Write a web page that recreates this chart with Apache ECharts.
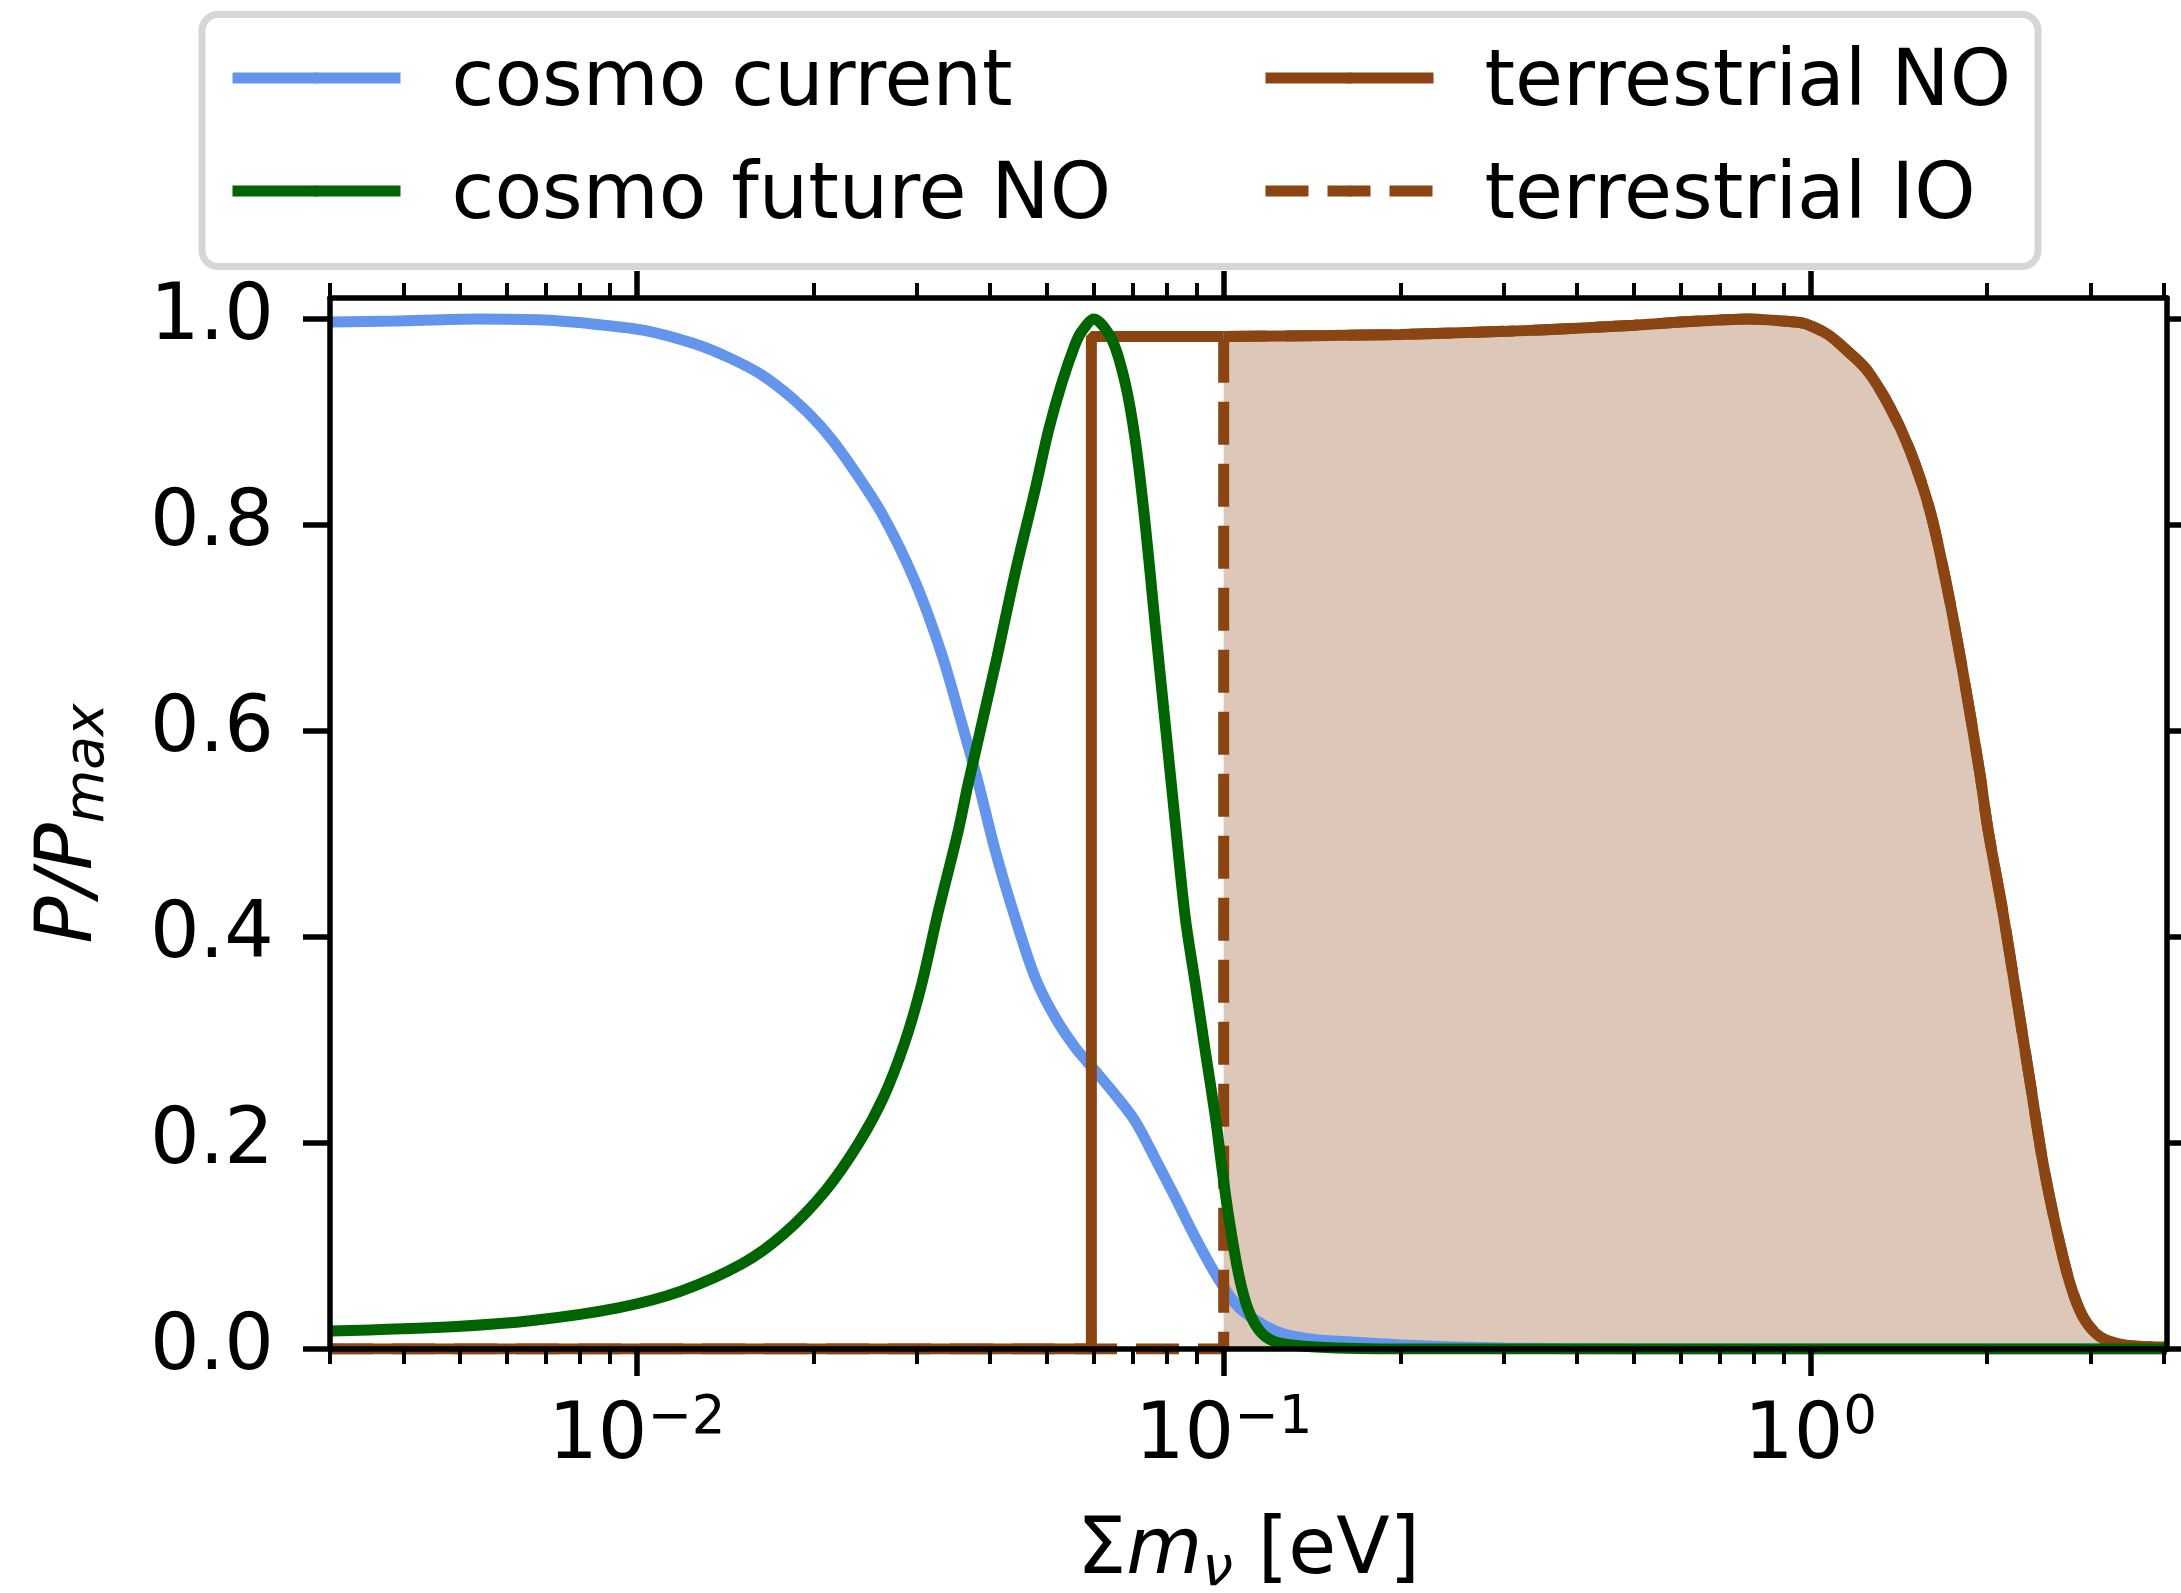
<!DOCTYPE html>
<html>
<head>
<meta charset="utf-8">
<script src="https://cdn.jsdelivr.net/npm/echarts@6/dist/echarts.min.js"></script>
<style>
  html, body { margin: 0; padding: 0; background: #fff; }
  #chart { width: 2181px; height: 1593px; }
</style>
</head>
<body>
<div id="chart"></div>
<script>
  // [sum of masses in eV, P/Pmax]
  const cosmoCurrent = [
    [0.003, 0.997], [0.00386, 0.998], [0.00535, 1.0], [0.00696, 0.999], [0.00847, 0.995],
    [0.0103, 0.989], [0.01254, 0.976], [0.01429, 0.963], [0.0163, 0.946], [0.01858, 0.921],
    [0.02064, 0.895], [0.02262, 0.866], [0.0261, 0.812], [0.0298, 0.745], [0.0331, 0.674],
    [0.0358, 0.607], [0.0382, 0.549], [0.0408, 0.484], [0.0441, 0.419], [0.0477, 0.361],
    [0.0516, 0.322], [0.0558, 0.293], [0.0604, 0.27], [0.0653, 0.247], [0.0707, 0.221],
    [0.0764, 0.185], [0.0827, 0.147], [0.0895, 0.108], [0.0968, 0.073], [0.1047, 0.044],
    [0.1133, 0.028], [0.1258, 0.015], [0.1434, 0.009], [0.1633, 0.007], [0.2, 0.004],
    [0.3, 0.001], [0.5, 0], [4.05, 0]
  ];
  const cosmoFutureNO = [
    [0.003, 0.0175], [0.00484, 0.0217], [0.0067, 0.028], [0.00929, 0.04], [0.01186, 0.056],
    [0.01514, 0.083], [0.01782, 0.112], [0.02098, 0.154], [0.02389, 0.2], [0.02635, 0.245],
    [0.02859, 0.297], [0.03051, 0.352], [0.03258, 0.423], [0.03532, 0.504], [0.0367, 0.549],
    [0.0411, 0.672], [0.0441, 0.753], [0.0477, 0.834], [0.0503, 0.892], [0.053, 0.938],
    [0.0558, 0.975], [0.0573, 0.988], [0.0601, 1.0], [0.0645, 0.98], [0.068, 0.937],
    [0.0707, 0.882], [0.0735, 0.801], [0.0764, 0.704], [0.0795, 0.607], [0.0826, 0.514],
    [0.086, 0.419], [0.0895, 0.354], [0.093, 0.29], [0.0968, 0.225], [0.0993, 0.176],
    [0.102, 0.128], [0.1061, 0.072], [0.1103, 0.037], [0.1162, 0.015], [0.1241, 0.006],
    [0.1434, 0.002], [0.2, 0], [4.05, 0]
  ];
  // threshold steps of the two terrestrial curves
  const terrestrialNOStep = [[0.003, 0], [0.0595, 0], [0.0595, 0.983], [0.1, 0.983]];
  const terrestrialIOStep = [[0.003, 0], [0.1, 0], [0.1, 0.983]];
  // shared plateau and fall-off of both terrestrial curves
  const terrestrialTail = [
    [0.1, 0.983], [0.15, 0.984], [0.2, 0.985], [0.3, 0.988], [0.4, 0.991], [0.5, 0.994],
    [0.6, 0.997], [0.7, 0.999], [0.787, 1.0], [0.897, 0.998], [0.97, 0.996], [1.0226, 0.991],
    [1.077, 0.984], [1.135, 0.973], [1.245, 0.951], [1.364, 0.915], [1.476, 0.873],
    [1.596, 0.815], [1.704, 0.743], [1.82, 0.656], [1.943, 0.559], [2.007, 0.504],
    [2.129, 0.423], [2.244, 0.342], [2.364, 0.261], [2.491, 0.18], [2.626, 0.116],
    [2.767, 0.064], [2.915, 0.031], [3.112, 0.012], [3.412, 0.004], [4.05, 0.002]
  ];

  const xMajorTicks = [0.01, 0.1, 1];
  const xMinorTicks = [0.003, 0.004, 0.005, 0.006, 0.007, 0.008, 0.009,
    0.02, 0.03, 0.04, 0.05, 0.06, 0.07, 0.08, 0.09,
    0.2, 0.3, 0.4, 0.5, 0.6, 0.7, 0.8, 0.9, 2, 3, 4];
  const yTicks = [0, 0.2, 0.4, 0.6, 0.8, 1.0];

  const FONT = 'DejaVu Sans';
  const X_MIN = 0.003, X_MAX = 4.05, Y_MAX = 1.0204;
  const LW = 11;
  const BROWN = '#8B4513';

  function xAxis(position, ticks, len, width, main) {
    return {
      type: 'log', logBase: 10, min: X_MIN, max: X_MAX, position: position, z: 10,
      axisLine: { show: main, onZero: false, lineStyle: { color: '#000', width: 5.5 } },
      axisTick: { show: true, inside: false, length: len, customValues: ticks,
        lineStyle: { color: '#000', width: width } },
      axisLabel: { show: false },
      splitLine: { show: false },
      minorTick: { show: false },
      minorSplitLine: { show: false }
    };
  }

  const bottomMajor = xAxis('bottom', xMajorTicks, 27, 5.5, true);
  bottomMajor.axisLabel = {
    show: true,
    customValues: xMajorTicks,
    margin: 44,
    formatter: function (v) {
      const e = Math.round(Math.log10(v));
      return '{b|10}{s|' + String(e).replace('-', '\u2212') + '}';
    },
    rich: {
      b: { fontFamily: FONT, fontSize: 78, lineHeight: 90, color: '#000', verticalAlign: 'middle' },
      s: { fontFamily: FONT, fontSize: 53, lineHeight: 40, color: '#000', verticalAlign: 'top' }
    }
  };
  bottomMajor.name = '{s|\u03a3}{i|m}{sub|\u03bd}{s| [eV]}';
  bottomMajor.nameLocation = 'middle';
  bottomMajor.nameGap = 159;
  bottomMajor.nameTextStyle = {
    rich: {
      s: { fontFamily: FONT, fontSize: 78, lineHeight: 90, color: '#000', verticalAlign: 'middle' },
      i: { fontFamily: FONT, fontSize: 78, lineHeight: 90, color: '#000', fontStyle: 'italic', verticalAlign: 'middle' },
      sub: { fontFamily: FONT, fontSize: 55, lineHeight: 54, color: '#000', fontStyle: 'italic', verticalAlign: 'bottom' }
    }
  };

  function yAxis(position, main) {
    return {
      type: 'value', min: 0, max: Y_MAX, position: position, z: 10,
      axisLine: { show: true, onZero: false, lineStyle: { color: '#000', width: 5.5 } },
      axisTick: { show: true, inside: false, length: 27, customValues: yTicks,
        lineStyle: { color: '#000', width: 5.5 } },
      axisLabel: main ? {
        show: true, customValues: yTicks, margin: 56,
        fontFamily: FONT, fontSize: 78, color: '#000',
        formatter: function (v) { return v.toFixed(1); }
      } : { show: false },
      splitLine: { show: false }
    };
  }

  const leftAxis = yAxis('left', true);
  leftAxis.name = '{i|P/P}{sub|max}';
  leftAxis.nameLocation = 'middle';
  leftAxis.nameRotate = 90;
  leftAxis.nameGap = 214;
  leftAxis.nameTextStyle = {
    rich: {
      i: { fontFamily: FONT, fontSize: 78, lineHeight: 90, color: '#000', fontStyle: 'italic', verticalAlign: 'middle' },
      sub: { fontFamily: FONT, fontSize: 55, lineHeight: 44, color: '#000', fontStyle: 'italic', verticalAlign: 'bottom' }
    }
  };

  function legendOf(names, left) {
    return {
      data: names,
      orient: 'vertical', left: left, top: 32, padding: 0, itemGap: 21,
      itemWidth: 168, itemHeight: 14, selectedMode: false,
      lineStyle: { width: 'inherit' },
      formatter: function (name) { return '{t|' + name + '}'; },
      textStyle: {
        fontFamily: FONT, fontSize: 78, color: '#000', padding: [0, 0, 0, 46],
        rich: { t: { fontFamily: FONT, fontSize: 78, color: '#000', lineHeight: 80, padding: [14, 0, 0, 0] } }
      }
    };
  }

  function brownLine(name, data, dashed, smooth, z) {
    return {
      name: name, type: 'line', data: data, symbol: 'none', smooth: smooth, z: z,
      color: BROWN, lineStyle: { color: BROWN, width: LW, type: dashed ? [43, 19] : 'solid' }
    };
  }

  const chart = echarts.init(document.getElementById('chart'), null, { renderer: 'canvas' });
  chart.setOption({
    animation: false,
    backgroundColor: '#fff',
    grid: { left: 330, top: 298, width: 1837, height: 1051, containLabel: false, outerBoundsMode: 'none' },
    graphic: [{
      type: 'rect', z: 0,
      shape: { x: 202, y: 14.5, width: 1836, height: 252, r: 16 },
      style: { fill: '#fff', stroke: '#d6d6d6', lineWidth: 7 }
    }],
    legend: [
      legendOf(['cosmo current', 'cosmo future NO'], 227),
      legendOf(['terrestrial NO', 'terrestrial IO'], 1260)
    ],
    xAxis: [
      bottomMajor,
      xAxis('bottom', xMinorTicks, 15, 4, false),
      xAxis('top', xMajorTicks, 27, 5.5, true),
      xAxis('top', xMinorTicks, 15, 4, false)
    ],
    yAxis: [leftAxis, yAxis('right', false)],
    series: [
      {
        name: 'IO band', type: 'line', data: terrestrialTail, symbol: 'none', smooth: 0.3,
        silent: true, z: 1,
        lineStyle: { width: 0 },
        areaStyle: { color: BROWN, opacity: 0.3, origin: 'start' }
      },
      {
        name: 'cosmo current', type: 'line', data: cosmoCurrent, symbol: 'none', smooth: 0.3, z: 2,
        color: '#6495ED', lineStyle: { color: '#6495ED', width: LW }
      },
      {
        name: 'cosmo future NO', type: 'line', data: cosmoFutureNO, symbol: 'none', smooth: 0.3, z: 5,
        color: '#006400', lineStyle: { color: '#006400', width: LW }
      },
      brownLine('terrestrial NO', terrestrialNOStep, false, false, 3),
      brownLine('terrestrial NO', terrestrialTail, false, 0.3, 3),
      brownLine('terrestrial IO', terrestrialIOStep, true, false, 4),
      brownLine('terrestrial IO', terrestrialTail, true, 0.3, 2)
    ]
  });
</script>
</body>
</html>
